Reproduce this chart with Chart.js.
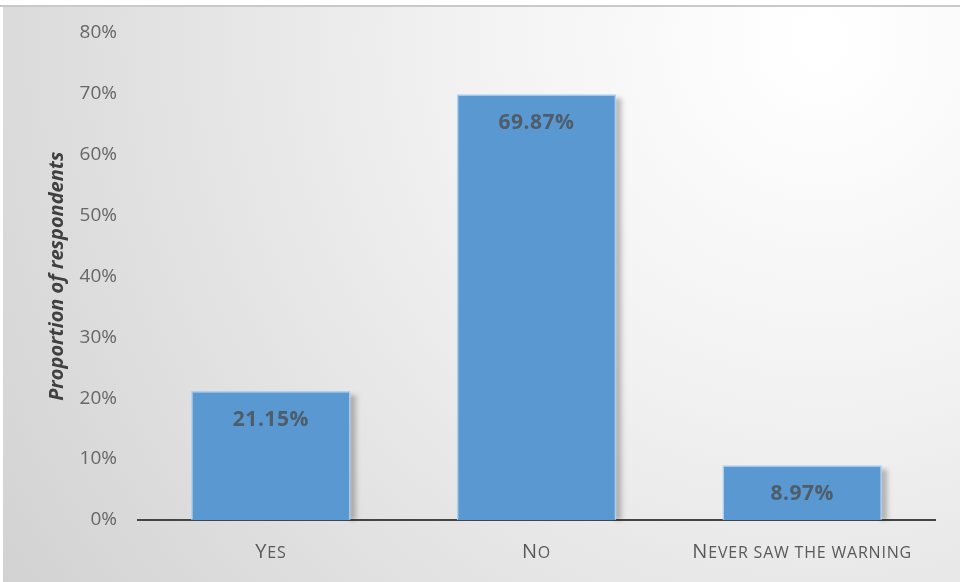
<!DOCTYPE html>
<html>
<head>
<meta charset="utf-8">
<script src="https://cdn.jsdelivr.net/npm/chart.js@4"></script>
<style>
  html, body { margin: 0; padding: 0; background: #ffffff; }
  #wrap { position: relative; width: 960px; height: 582px; }
</style>
</head>
<body>
<div id="wrap"><canvas id="chart" width="960" height="582"></canvas></div>
<script>
// Categories, values (percent) and axis ticks
const categories = ['Yes', 'No', 'Never saw the warning'];
const proportions = [21.15, 69.87, 8.97];
const yTicks = [0, 10, 20, 30, 40, 50, 60, 70, 80];
const yTitle = 'Proportion of respondents';

const FONT = '"Open Sans", Lato, "DejaVu Sans", sans-serif';

// Soft grey-to-white panel with a thin frame line along the top
const panelBackground = {
  id: 'panelBackground',
  beforeDraw(chart) {
    const { ctx, width, height } = chart;
    ctx.save();
    ctx.fillStyle = '#ffffff';
    ctx.fillRect(0, 0, width, height);
    const g = ctx.createRadialGradient(820, 40, 20, 820, 40, 980);
    g.addColorStop(0, '#ffffff');
    g.addColorStop(0.35, '#f2f2f2');
    g.addColorStop(1, '#d2d2d2');
    ctx.fillStyle = g;
    ctx.fillRect(3, 6, width - 3, height - 6);
    ctx.fillStyle = '#c9c9c9';
    ctx.fillRect(0, 5, width, 2);
    ctx.restore();
  }
};

// Soft shadow along the right-hand side of each bar
const barShadow = {
  id: 'barShadow',
  beforeDatasetsDraw(chart) {
    const ctx = chart.ctx;
    const meta = chart.getDatasetMeta(0);
    ctx.save();
    ctx.filter = 'blur(2px)';
    meta.data.forEach(bar => {
      const right = bar.x + bar.width / 2;
      const top = Math.min(bar.y, bar.base);
      const g = ctx.createLinearGradient(right, 0, right + 8, 0);
      g.addColorStop(0, 'rgba(0,0,0,0.35)');
      g.addColorStop(1, 'rgba(0,0,0,0)');
      ctx.fillStyle = g;
      ctx.fillRect(right - 1, top + 4, 9, bar.base - top - 4);
    });
    ctx.restore();
  }
};

// Value labels just inside the top of each bar
const valueLabels = {
  id: 'valueLabels',
  afterDatasetsDraw(chart) {
    const { ctx } = chart;
    const meta = chart.getDatasetMeta(0);
    ctx.save();
    ctx.font = 'bold 21px ' + FONT;
    ctx.letterSpacing = '0.5px';
    ctx.fillStyle = 'rgba(75,75,75,0.78)';
    ctx.textAlign = 'center';
    ctx.textBaseline = 'middle';
    meta.data.forEach((bar, i) => {
      const v = chart.data.datasets[0].data[i];
      ctx.fillText(v.toFixed(2) + '%', bar.x, bar.y + 29);
    });
    ctx.restore();
  }
};

// Category names in small capitals under the axis
const smallCapsLabels = {
  id: 'smallCapsLabels',
  afterDraw(chart) {
    const { ctx } = chart;
    const xs = chart.scales.x;
    const big = '20px ' + FONT, small = '16px ' + FONT;
    ctx.save();
    ctx.fillStyle = '#595959';
    ctx.textBaseline = 'alphabetic';
    ctx.textAlign = 'left';
    ctx.letterSpacing = '0.8px';
    chart.data.labels.forEach((label, i) => {
      const parts = [];
      for (const ch of label) {
        const isUpper = ch !== ch.toLowerCase();
        parts.push({ text: ch.toUpperCase(), font: isUpper ? big : small });
      }
      let total = 0;
      parts.forEach(p => { ctx.font = p.font; p.w = ctx.measureText(p.text).width; total += p.w; });
      let x = xs.getPixelForValue(i) - total / 2;
      const y = xs.top + 38;
      parts.forEach(p => { ctx.font = p.font; ctx.fillText(p.text, x, y); x += p.w; });
    });
    ctx.restore();
  }
};

new Chart(document.getElementById('chart'), {
  type: 'bar',
  data: {
    labels: categories,
    datasets: [{
      data: proportions,
      backgroundColor: '#5a98d2',
      borderColor: 'rgba(170,205,240,0.95)',
      borderWidth: 1.5,
      barPercentage: 0.6,
      categoryPercentage: 1
    }]
  },
  options: {
    responsive: false,
    animation: false,
    layout: { padding: { top: 30, right: 25, left: 45, bottom: 0 } },
    plugins: {
      legend: { display: false },
      tooltip: { enabled: false }
    },
    scales: {
      x: {
        grid: { display: false, drawTicks: false },
        border: { display: true, color: '#444444', width: 2 },
        ticks: { display: false },
        afterFit(scale) { scale.height = 62; }
      },
      y: {
        min: 0,
        max: 80,
        afterBuildTicks(scale) { scale.ticks = yTicks.map(v => ({ value: v })); },
        grid: { display: false, drawTicks: false },
        border: { display: false },
        ticks: {
          color: '#666666',
          padding: 21,
          font: { family: FONT, size: 19 },
          callback: v => v + '%'
        },
        title: {
          display: true,
          text: yTitle,
          color: '#404040',
          padding: { top: 0, bottom: 0 },
          font: { family: FONT, size: 20, weight: 'bold', style: 'italic' }
        },
        afterFit(scale) { scale.width = 93; }
      }
    }
  },
  plugins: [panelBackground, barShadow, valueLabels, smallCapsLabels]
});
</script>
</body>
</html>
